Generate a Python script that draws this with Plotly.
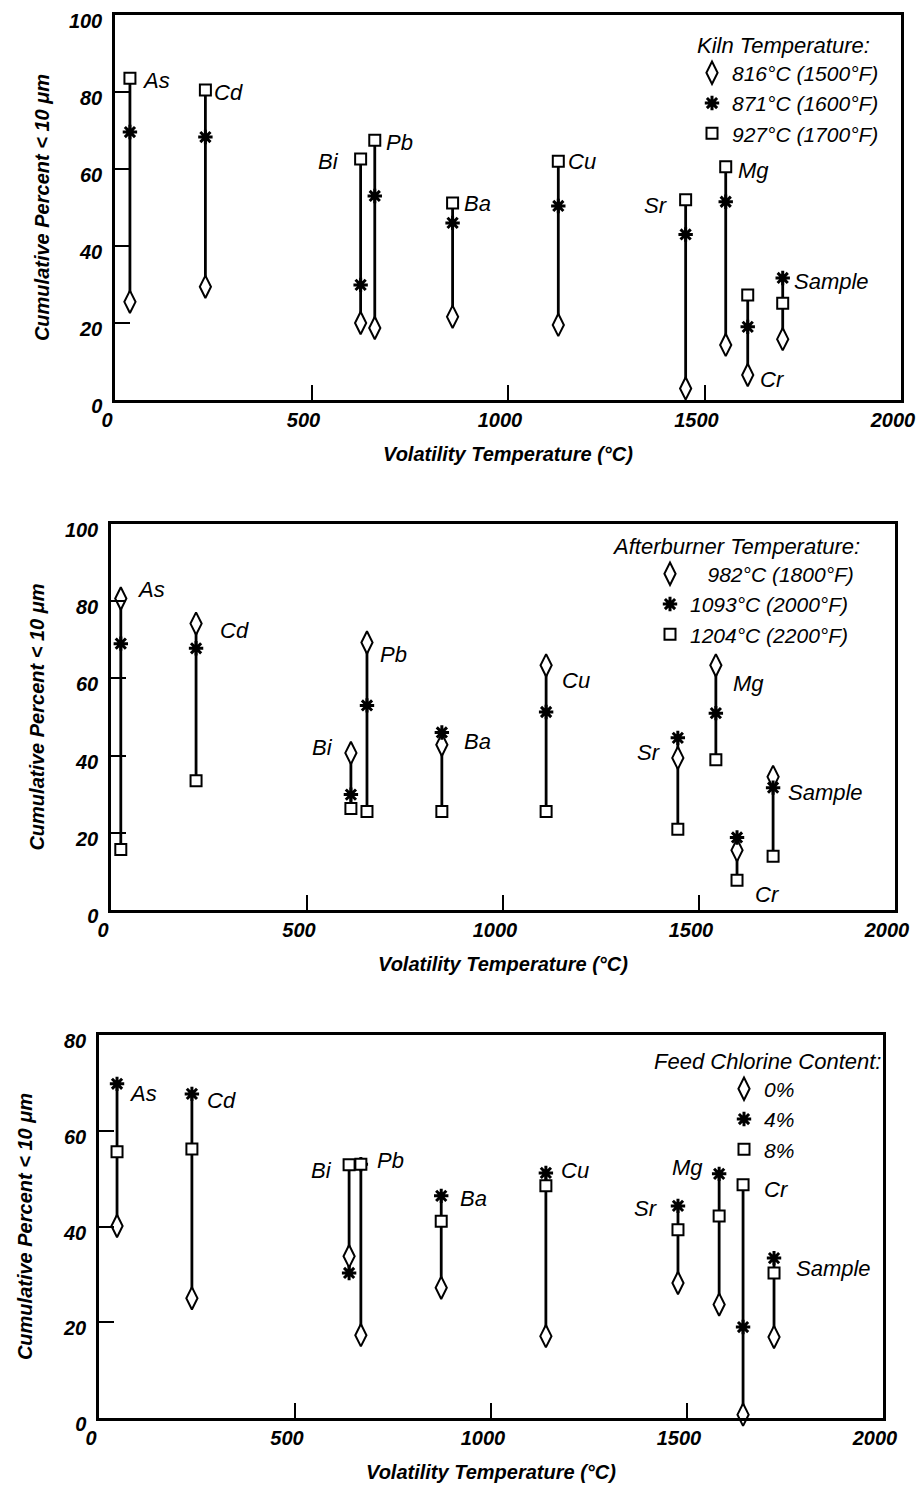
import plotly.graph_objects as go
import numpy as np

W, H = 916, 1486

ELEMENTS = ["As", "Cd", "Bi", "Pb", "Ba", "Cu", "Sr", "Mg", "Cr", "Sample"]

# ---- Panel 1: Kiln temperature ----
K_TEMP = [38, 230, 625, 661, 859, 1128, 1452, 1554, 1610, 1699]
K_816 = [25.5, 29.4, 20.0, 18.7, 21.6, 19.5, 3.0, 14.3, 6.5, 15.8]
K_871 = [69.6, 68.3, 29.9, 53.0, 46.0, 50.4, 43.0, 51.5, 19.0, 31.7]
K_927 = [83.6, 80.5, 62.6, 67.5, 51.2, 62.0, 52.0, 60.6, 27.3, 25.1]
K_NAMES = ["816°C (1500°F)", "871°C (1600°F)", "927°C (1700°F)"]
K_LABEL_Y = [83, 80, 62, 67, 51, 62, 50.6, 59.7, 5.2, 30.7]
K_LABEL_DX = [10, 7, -20, 9, 9, 8, -16, 10, 10, 9]

# ---- Panel 2: Afterburner temperature ----
A_TEMP = [25, 217, 612, 653, 844, 1110, 1446, 1543, 1597, 1689]
A_982 = [80.7, 74.2, 40.7, 69.3, 42.8, 63.4, 39.4, 63.4, 15.5, 34.5]
A_1093 = [69.0, 67.8, 29.9, 53.0, 46.0, 51.3, 44.6, 51.0, 18.8, 31.7]
A_1204 = [15.7, 33.5, 26.3, 25.5, 25.5, 25.5, 20.9, 38.9, 7.7, 13.9]
A_NAMES = ["\u00a0\u00a0\u00a0982°C (1800°F)", "1093°C (2000°F)", "1204°C (2200°F)"]
A_LABEL_Y = [83, 72.4, 42, 66.2, 43.6, 59.5, 40.7, 58.8, 4.1, 30.4]
A_LABEL_DX = [14, 22, -16, 11, 20, 14, -15, 15, 16, 13]

# ---- Panel 3: Feed chlorine content ----
C_TEMP = [46, 237, 638, 668, 873, 1140, 1477, 1582, 1643, 1722]
C_0 = [40.1, 25.0, 33.8, 17.3, 27.2, 17.1, 28.2, 23.7, 0.7, 16.9]
C_4 = [69.8, 67.7, 30.3, 53.0, 46.4, 51.2, 44.3, 51.0, 19.0, 33.4]
C_8 = [55.6, 56.2, 52.9, 53.0, 41.1, 48.5, 39.3, 42.2, 48.7, 30.3]
C_NAMES = ["0%", "4%", "8%"]
C_LABEL_Y = [67.8, 66.3, 51.6, 53.7, 45.8, 51.6, 43.7, 52.3, 47.8, 31.3]
C_LABEL_DX = [10, 13, -15, 14, 17, 13, -18, -14, 19, 20]

X_TICKS = [0, 500, 1000, 1500, 2000]
Y_TICKS_100 = [0, 20, 40, 60, 80, 100]
Y_TICKS_80 = [0, 20, 40, 60, 80]

FONT = "Liberation Sans, Arial, Helvetica, sans-serif"


def xdom(l, r):
    return [l / W, r / W]


def ydom(top, bottom):
    return [1 - bottom / H, 1 - top / H]


panels = [
    dict(temp=K_TEMP, series=[K_816, K_871, K_927], names=K_NAMES,
         title="Kiln Temperature:", ly=K_LABEL_Y, ldx=K_LABEL_DX,
         xd=xdom(115, 901), yd=ydom(15, 400), yr=[0, 100], yt=Y_TICKS_100,
         leg=(695, 24, -3), ystand=14),
    dict(temp=A_TEMP, series=[A_982, A_1093, A_1204], names=A_NAMES,
         title="Afterburner Temperature:", ly=A_LABEL_Y, ldx=A_LABEL_DX,
         xd=xdom(111, 895), yd=ydom(524, 910), yr=[0, 100], yt=Y_TICKS_100,
         leg=(612, 525, 38), ystand=15),
    dict(temp=C_TEMP, series=[C_0, C_4, C_8], names=C_NAMES,
         title="Feed Chlorine Content:", ly=C_LABEL_Y, ldx=C_LABEL_DX,
         xd=xdom(99, 883), yd=ydom(1035, 1418), yr=[0, 80], yt=Y_TICKS_80,
         leg=(652, 1040, 72), ystand=26),
]

MARKERS = [
    dict(symbol="diamond-tall", size=16, color="white", line=dict(color="black", width=2)),
    dict(symbol="asterisk-open", size=12, color="black", line=dict(color="black", width=3)),
    dict(symbol="square", size=11, color="white", line=dict(color="black", width=2)),
]

fig = go.Figure()
layout = dict(
    width=W, height=H, margin=dict(l=0, r=0, t=0, b=0, autoexpand=False),
    paper_bgcolor="white", plot_bgcolor="white",
    font=dict(family=FONT, color="black", size=20),
    annotations=[],
)

for i, p in enumerate(panels):
    sfx = "" if i == 0 else str(i + 1)
    xa, ya = "x" + sfx, "y" + sfx
    legname = "legend" + sfx
    arr = np.array(p["series"], dtype=float)
    lo, hi = arr.min(axis=0), arr.max(axis=0)
    lx, lyv = [], []
    for t, a, b in zip(p["temp"], lo, hi):
        lx += [t, t, None]
        lyv += [a, b, None]
    fig.add_trace(go.Scatter(x=lx, y=lyv, mode="lines", xaxis=xa, yaxis=ya,
                             line=dict(color="black", width=2.8),
                             showlegend=False, hoverinfo="skip"))
    for s, nm, mk in zip(p["series"], p["names"], MARKERS):
        fig.add_trace(go.Scatter(x=p["temp"], y=s, mode="markers", name=nm,
                                 xaxis=xa, yaxis=ya, marker=mk, legend=legname,
                                 cliponaxis=False))
    for el, t, yv, dx in zip(ELEMENTS, p["temp"], p["ly"], p["ldx"]):
        layout["annotations"].append(dict(
            x=t, y=yv, xref=xa, yref=ya, text=el, showarrow=False,
            xanchor="left" if dx > 0 else "right", xshift=dx,
            font=dict(size=22, style="italic")))
    tickfont = dict(family=FONT, size=20, weight="bold", style="italic")
    layout["xaxis" + sfx] = dict(
        domain=p["xd"], anchor=ya, range=[0, 2000], tickvals=X_TICKS,
        ticks="inside", ticklen=15, tickwidth=2, tickcolor="black",
        showline=True, mirror=True, linecolor="black", linewidth=2.5,
        showgrid=False, zeroline=False, tickfont=tickfont, automargin=False,
        ticklabeloverflow="allow", ticklabelshift=-8,
        title=dict(text="Volatility Temperature (°C)", standoff=18,
                   font=dict(size=20, style="italic", weight="bold")))
    layout["yaxis" + sfx] = dict(
        domain=p["yd"], anchor=xa, range=p["yr"], tickvals=p["yt"],
        ticks="inside", ticklen=15, tickwidth=2, tickcolor="black",
        showline=True, mirror=True, linecolor="black", linewidth=2.5,
        showgrid=False, zeroline=False, tickfont=tickfont, automargin=False,
        ticklabelstandoff=6, ticklabeloverflow="allow", ticklabelshift=6,
        title=dict(text="Cumulative Percent < 10 μm", standoff=p["ystand"],
                   font=dict(size=20, style="italic", weight="bold")))
    lx0, ly0, ind = p["leg"]
    layout[legname] = dict(
        x=lx0 / W, y=1 - ly0 / H, xanchor="left", yanchor="top",
        bgcolor="rgba(0,0,0,0)", borderwidth=0, indentation=ind,
        itemwidth=30, traceorder="normal",
        title=dict(text=p["title"], font=dict(size=22, style="italic")),
        font=dict(size=21, style="italic"))

fig.update_layout(**layout)
fig.write_html("out.html")
